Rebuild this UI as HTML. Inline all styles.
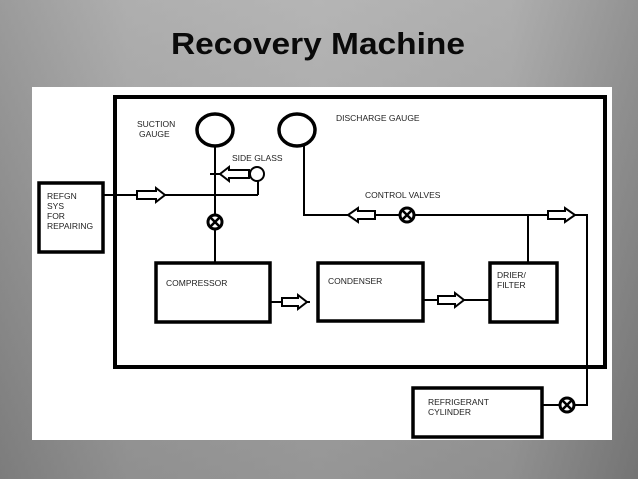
<!DOCTYPE html>
<html><head><meta charset="utf-8"><style>
html,body{margin:0;padding:0;width:638px;height:479px;overflow:hidden;}
body{background:linear-gradient(90deg,#7e7e7e 0%,#a5a5a5 20%,#b2b2b2 50%,#a4a4a4 80%,#6d6d6d 100%);}
svg{display:block}
</style></head><body>
<svg width="638" height="479" viewBox="0 0 638 479" xmlns="http://www.w3.org/2000/svg" font-family="Liberation Sans, sans-serif">
<defs>
<linearGradient id="bg" x1="0" y1="0" x2="0" y2="1">
<stop offset="0" stop-color="#b8b8b8"/><stop offset="1" stop-color="#7a7a7a"/>
</linearGradient>
</defs>
<rect x="0" y="0" width="638" height="479" fill="url(#bg)" opacity="0.5"/>
<text x="171" y="54" font-size="31" font-weight="bold" fill="#0a0a0a" textLength="294" lengthAdjust="spacingAndGlyphs">Recovery Machine</text>
<rect x="32" y="87" width="580" height="353" fill="#fff"/>
<g fill="none" stroke="#000">
<rect x="115" y="97" width="490" height="270" stroke-width="4"/>
<rect x="39" y="183" width="64" height="69" stroke-width="3.5"/>
<ellipse cx="215" cy="130" rx="18" ry="16" stroke-width="3.5"/>
<ellipse cx="297" cy="130" rx="18" ry="16" stroke-width="3.5"/>
<rect x="156" y="263" width="114" height="59" stroke-width="3.5"/>
<rect x="318" y="263" width="105" height="58" stroke-width="3.5"/>
<rect x="490" y="263" width="67" height="59" stroke-width="3.5"/>
<rect x="413" y="388" width="129" height="49" stroke-width="3.5"/>
<g stroke-width="2">
<line x1="215" y1="146" x2="215" y2="263"/>
<line x1="103" y1="195" x2="258" y2="195"/>
<line x1="258" y1="195" x2="258" y2="181"/>
<line x1="210" y1="174" x2="250" y2="174"/>
<circle cx="257" cy="174" r="7"/>
<polyline points="304,146 304,215 587,215 587,405 568,405"/>
<line x1="542" y1="405" x2="560" y2="405"/>
<line x1="528" y1="215" x2="528" y2="263"/>
<line x1="270" y1="302" x2="310" y2="302"/>
<line x1="423" y1="300" x2="490" y2="300"/>
</g>
</g>
<g fill="#fff" stroke="#000" stroke-width="2">
<polygon points="137,191 156,191 156,188 165,195 156,202 156,199 137,199"/>
<polygon points="249,170 229,170 229,167 220,174 229,181 229,178 249,178"/>
<polygon points="282,298 298,298 298,295 307,302 298,309 298,306 282,306"/>
<polygon points="438,296 455,296 455,293 464,300 455,307 455,304 438,304"/>
<polygon points="375,211 358,211 358,208 348,215 358,222 358,219 375,219"/>
<polygon points="548,211 565,211 565,208 575,215 565,222 565,219 548,219"/>
</g>
<g stroke="#000" stroke-width="3" fill="#fff">
<circle cx="215" cy="222" r="7"/>
<circle cx="407" cy="215" r="7"/>
<circle cx="567" cy="405" r="7"/>
</g>
<g stroke="#000" stroke-width="2.5">
<path d="M210 217 L220 227 M220 217 L210 227"/>
<path d="M402 210 L412 220 M412 210 L402 220"/>
<path d="M562 400 L572 410 M572 400 L562 410"/>
</g>
<g font-size="8.5" fill="#222">
<text x="137" y="127">SUCTION</text>
<text x="139" y="137">GAUGE</text>
<text x="232" y="161">SIDE GLASS</text>
<text x="336" y="121">DISCHARGE GAUGE</text>
<text x="365" y="198">CONTROL VALVES</text>
<text x="47" y="199">REFGN</text>
<text x="47" y="209">SYS</text>
<text x="47" y="219">FOR</text>
<text x="47" y="229">REPAIRING</text>
<text x="166" y="286">COMPRESSOR</text>
<text x="328" y="284">CONDENSER</text>
<text x="497" y="278">DRIER/</text>
<text x="497" y="288">FILTER</text>
<text x="428" y="405">REFRIGERANT</text>
<text x="428" y="415">CYLINDER</text>
</g>
</svg>
</body></html>
